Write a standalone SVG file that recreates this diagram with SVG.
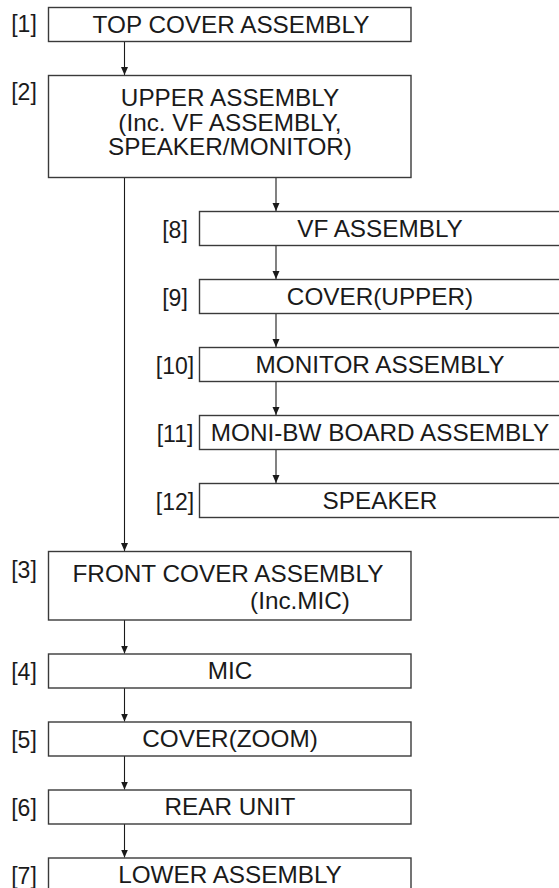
<svg xmlns="http://www.w3.org/2000/svg" width="559" height="888" viewBox="0 0 559 888">
<defs>
<marker id="ah" markerWidth="8" markerHeight="9" refX="8" refY="3.5" orient="auto" markerUnits="userSpaceOnUse">
<path d="M0,0 L8,3.5 L0,7 Z" fill="#1a1a1a"/>
</marker>
<style>
.box{fill:#fff;stroke:#3a3a3a;stroke-width:1.4}
.t{font-family:"Liberation Sans",Arial,sans-serif;font-size:24.3px;fill:#1a1a1a;text-anchor:middle}
.lb{font-family:"Liberation Sans",Arial,sans-serif;font-size:23px;fill:#1a1a1a;text-anchor:middle}
.c{stroke:#1a1a1a;stroke-width:1.1;fill:none;marker-end:url(#ah)}
</style>
</defs>
<rect width="559" height="888" fill="#fff"/>
<g id="connectors">
<path class="c" d="M124.5,41.5 V75"/>
<path class="c" d="M124.5,177.5 V551"/>
<path class="c" d="M276,177.5 V211"/>
<path class="c" d="M276,245.5 V279"/>
<path class="c" d="M276,313.5 V347"/>
<path class="c" d="M276,381.5 V415"/>
<path class="c" d="M276,449.5 V483"/>
<path class="c" d="M124.5,620 V653.5"/>
<path class="c" d="M124.5,688 V721.5"/>
<path class="c" d="M124.5,756 V789.5"/>
<path class="c" d="M124.5,824 V857.5"/>
</g>
<g id="n1"><rect class="box" x="48.5" y="7.5" width="362.5" height="34"/><text class="lb" x="24" y="32">[1]</text><text class="t" x="231" y="32.5">TOP COVER ASSEMBLY</text></g>
<g id="n2"><rect class="box" x="48.5" y="75.5" width="362.5" height="102"/><text class="lb" x="24" y="100">[2]</text><text class="t" x="230" y="106">UPPER ASSEMBLY</text><text class="t" x="230" y="130.5">(Inc. VF ASSEMBLY,</text><text class="t" x="230" y="155">SPEAKER/MONITOR)</text></g>
<g id="n8"><rect class="box" x="199.5" y="211.5" width="362" height="34"/><text class="lb" x="175" y="237.5">[8]</text><text class="t" x="380" y="236.5">VF ASSEMBLY</text></g>
<g id="n9"><rect class="box" x="199.5" y="279.5" width="362" height="34"/><text class="lb" x="175" y="305.5">[9]</text><text class="t" x="380" y="304.5">COVER(UPPER)</text></g>
<g id="n10"><rect class="box" x="199.5" y="347.5" width="362" height="34"/><text class="lb" x="175" y="373.5">[10]</text><text class="t" x="380" y="372.5">MONITOR ASSEMBLY</text></g>
<g id="n11"><rect class="box" x="199.5" y="415.5" width="362" height="34"/><text class="lb" x="175" y="441.5">[11]</text><text class="t" x="380" y="440.5">MONI-BW BOARD ASSEMBLY</text></g>
<g id="n12"><rect class="box" x="199.5" y="483.5" width="362" height="34"/><text class="lb" x="175" y="509.5">[12]</text><text class="t" x="380" y="508.5">SPEAKER</text></g>
<g id="n3"><rect class="box" x="48.5" y="551.5" width="362.5" height="68.5"/><text class="lb" x="24" y="578">[3]</text><text class="t" x="228" y="581.5">FRONT COVER ASSEMBLY</text><text class="t" x="300" y="609">(Inc.MIC)</text></g>
<g id="n4"><rect class="box" x="48.5" y="654" width="362.5" height="34"/><text class="lb" x="24" y="680">[4]</text><text class="t" x="230" y="679">MIC</text></g>
<g id="n5"><rect class="box" x="48.5" y="722" width="362.5" height="34"/><text class="lb" x="24" y="748">[5]</text><text class="t" x="230" y="747">COVER(ZOOM)</text></g>
<g id="n6"><rect class="box" x="48.5" y="790" width="362.5" height="34"/><text class="lb" x="24" y="816">[6]</text><text class="t" x="230" y="815">REAR UNIT</text></g>
<g id="n7"><rect class="box" x="48.5" y="858" width="362.5" height="34"/><text class="lb" x="24" y="884">[7]</text><text class="t" x="230" y="883">LOWER ASSEMBLY</text></g>
</svg>
